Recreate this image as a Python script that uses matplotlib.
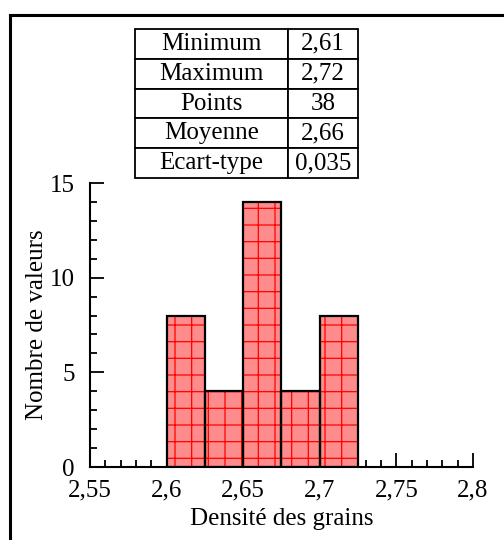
import matplotlib
matplotlib.use("Agg")
import matplotlib.pyplot as plt
from matplotlib.ticker import MultipleLocator, FuncFormatter
from matplotlib.lines import Line2D

# histogram data (bin left edges and counts)
bin_left = [2.6, 2.625, 2.65, 2.675, 2.7]
bin_width = 0.025
counts = [8, 4, 14, 4, 8]

# summary table
stat_names = ["Minimum", "Maximum", "Points", "Moyenne", "Ecart-type"]
stat_values = ["2,61", "2,72", "38", "2,66", "0,035"]

plt.rcParams['font.family'] = ['Liberation Serif', 'DejaVu Serif']
plt.rcParams['hatch.linewidth'] = 0.9

fig = plt.figure(figsize=(5.04, 5.4), dpi=100)

# outer frame (only left and top visible in the crop)
fig.add_artist(Line2D([10/504, 10/504], [0, 1 - 15/540], color='black', lw=2.2, transform=fig.transFigure))
fig.add_artist(Line2D([10/504, 1], [1 - 15/540, 1 - 15/540], color='black', lw=2.2, transform=fig.transFigure))

ax = fig.add_axes([90/504, 1 - 467/540, 383/504, 284/540])

# filled bars with red grid hatch
ax.bar(bin_left, counts, width=bin_width, align='edge', color='#ff8c8c',
       edgecolor='red', hatch='+', linewidth=0, zorder=2)
# black outlines
ax.bar(bin_left, counts, width=bin_width, align='edge', fill=False,
       edgecolor='black', linewidth=1.6, zorder=3)

ax.set_xlim(2.55, 2.8)
ax.set_ylim(0, 15)
ax.spines['top'].set_visible(False)
ax.spines['right'].set_visible(False)
ax.spines['left'].set_linewidth(1.5)
ax.spines['bottom'].set_linewidth(1.5)

ax.xaxis.set_major_locator(MultipleLocator(0.05))
ax.xaxis.set_minor_locator(MultipleLocator(0.01))
ax.yaxis.set_major_locator(MultipleLocator(5))
ax.yaxis.set_minor_locator(MultipleLocator(1))
ax.xaxis.set_major_formatter(FuncFormatter(lambda v, p: ('%g' % round(v, 3)).replace('.', ',')))
ax.yaxis.set_major_formatter(FuncFormatter(lambda v, p: '%d' % v))

ax.tick_params(which='both', direction='in', width=1.3, labelsize=18)
ax.tick_params(which='major', length=10)
ax.tick_params(which='minor', length=5)
ax.tick_params(axis='x', pad=9)
ax.tick_params(axis='y', pad=11)

ax.set_xlabel("Densité des grains", fontsize=18, labelpad=5)
ax.set_ylabel("Nombre de valeurs", fontsize=18, labelpad=1)

# table
tax = fig.add_axes([135/504, 1 - 178/540, 223/504, 149/540])
tax.axis('off')
cells = [[n, v] for n, v in zip(stat_names, stat_values)]
tbl = tax.table(cellText=cells, cellLoc='center', bbox=[0, 0, 1, 1],
                colWidths=[153/223, 70/223])
tbl.auto_set_font_size(False)
tbl.set_fontsize(18)
for key, cell in tbl.get_celld().items():
    cell.set_linewidth(1.3)

fig.savefig("out.png", dpi=100)
